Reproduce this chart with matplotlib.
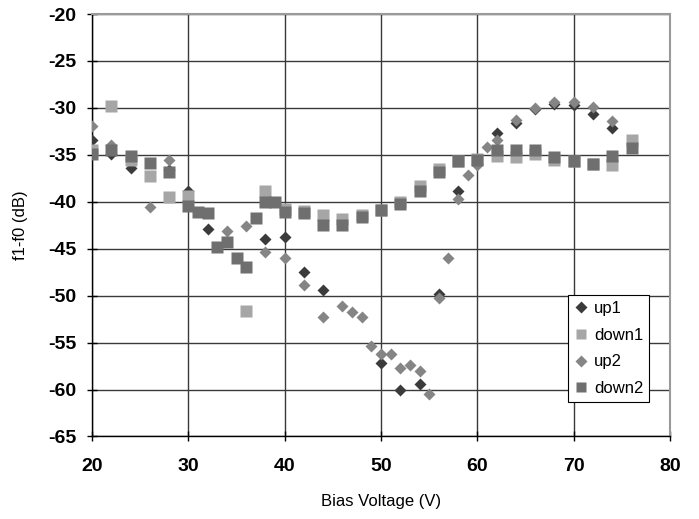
import numpy as np
import matplotlib.pyplot as plt

plt.rcParams['font.family'] = ['Liberation Sans Narrow', 'Liberation Sans', 'DejaVu Sans']
plt.rcParams['axes.unicode_minus'] = False

### Data (bias voltage in V, f1-f0 in dB)
up1_x = [20, 22, 24, 28, 30, 32, 38, 40, 42, 44, 50, 52, 54, 56, 58, 60, 62, 64, 66, 68, 70, 72, 74]
up1_y = [-33.4, -34.9, -36.4, -36.6, -38.8, -42.9, -44.0, -43.7, -47.5, -49.4, -57.2, -60.0, -59.4,
         -49.8, -38.8, -36.0, -32.7, -31.6, -30.1, -29.6, -29.7, -30.6, -32.1]

down1_x = [20, 22, 24, 26, 28, 30, 36, 38, 40, 42, 44, 46, 48, 50, 52, 54, 56, 58, 60, 62, 64, 66,
           68, 70, 72, 74, 76]
down1_y = [-34.5, -29.8, -35.5, -37.3, -39.5, -39.4, -51.6, -38.8, -40.8, -41.0, -41.4, -41.8, -41.4,
           -40.9, -40.0, -38.3, -36.5, -35.7, -35.4, -35.1, -35.2, -34.9, -35.5, -35.7, -36.0, -36.1, -33.4]

up2_x = [20, 22, 26, 28, 34, 36, 38, 40, 42, 44, 46, 47, 48, 49, 50, 51, 52, 53, 54, 55, 56, 57, 58,
         59, 60, 61, 62, 64, 66, 68, 70, 72, 74]
up2_y = [-31.9, -34.0, -40.6, -35.6, -43.1, -42.6, -45.4, -46.0, -48.9, -52.3, -51.1, -51.7, -52.3,
         -55.4, -56.2, -56.2, -57.7, -57.4, -58.0, -60.5, -50.3, -46.0, -39.7, -37.2, -36.1, -34.2,
         -33.4, -31.3, -30.0, -29.4, -29.4, -29.9, -31.4]

down2_x = [20, 22, 24, 26, 28, 30, 31, 32, 33, 34, 35, 36, 37, 38, 39, 40, 42, 44, 46, 48, 50, 52,
           54, 56, 58, 60, 62, 64, 66, 68, 70, 72, 74, 76]
down2_y = [-34.9, -34.5, -35.1, -35.9, -36.8, -40.5, -41.1, -41.2, -44.8, -44.3, -46.0, -46.9, -41.7,
           -40.0, -40.0, -41.1, -41.2, -42.5, -42.5, -41.6, -40.9, -40.2, -38.8, -36.8, -35.7, -35.6,
           -34.5, -34.5, -34.5, -35.2, -35.7, -36.0, -35.1, -34.3]

fig = plt.figure(figsize=(6.99, 5.19), dpi=100)
ax = fig.add_axes([0.1316, 0.159, 0.827, 0.814])

# grid first so markers sit on top
ax.set_axisbelow(True)
ax.grid(True, color='#3a3a3a', linewidth=1.0)

ax.plot(up1_x, up1_y, 'D', color='#3b3b3b', ms=6.5, mec='none', label='up1', zorder=3)
ax.plot(down1_x, down1_y, 's', color='#a6a6a6', ms=8.5, mec='none', label='down1', zorder=4)
ax.plot(up2_x, up2_y, 'D', color='#858585', ms=6.5, mec='none', label='up2', zorder=5)
ax.plot(down2_x, down2_y, 's', color='#6f6f6f', ms=8.5, mec='none', label='down2', zorder=6)

ax.set_xlim(20, 80)
ax.set_ylim(-65, -20)
ax.set_xticks(np.arange(20, 81, 10))
ax.set_yticks(np.arange(-65, -19, 5))

for s in ['top', 'right']:
    ax.spines[s].set_color('#9a9a9a')
    ax.spines[s].set_linewidth(1.5)
for s in ['left', 'bottom']:
    ax.spines[s].set_color('black')
    ax.spines[s].set_linewidth(1.0)

ax.tick_params(direction='inout', length=7, width=1.0, labelsize=14)
ax.tick_params(axis='x', pad=12)
ax.tick_params(axis='y', pad=8)
for lab in ax.get_xticklabels() + ax.get_yticklabels():
    lab.set_fontweight('bold')

ax.set_xlabel('Bias Voltage (V)', fontsize=12, labelpad=14)
ax.set_ylabel('f1-f0 (dB)', fontsize=12, labelpad=14)

leg = ax.legend(loc='lower left', bbox_to_anchor=(0.8235, 0.0817), borderaxespad=0,
                fontsize=12, fancybox=False, framealpha=1, edgecolor='black',
                handlelength=0.8, handletextpad=0.4, labelspacing=0.7, borderpad=0.35,
                markerscale=0.9)
leg.get_frame().set_linewidth(0.8)

fig.savefig('out.png', dpi=100)
